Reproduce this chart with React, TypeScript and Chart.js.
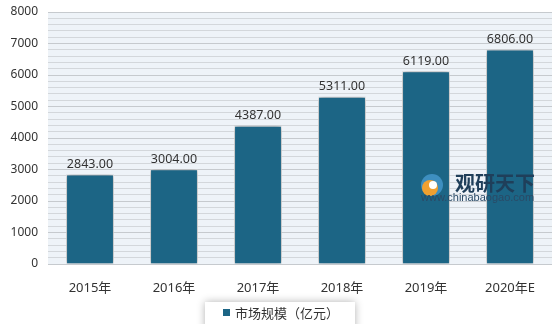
import React, { useEffect, useRef } from "react";
import { Chart, registerables } from "chart.js";

Chart.register(...registerables);

const categories = ["2015年", "2016年", "2017年", "2018年", "2019年", "2020年E"];
const marketSize = [2843, 3004, 4387, 5311, 6119, 6806];
const seriesName = "市场规模（亿元）";
const yMax = 8000;
const yStep = 200;

const FONT = "'Noto Sans', 'Noto Sans CJK SC', sans-serif";
const BAR = "#1C6585";

const bgPlugin = {
  id: "bgPlugin",
  beforeDraw(chart: any) {
    const { ctx, chartArea: a } = chart;
    ctx.save();
    ctx.fillStyle = "#EEF3F8";
    ctx.fillRect(a.left, a.top, a.right - a.left, a.bottom - a.top);
    ctx.restore();
  },
};

const shadowPlugin = {
  id: "shadowPlugin",
  beforeDatasetDraw(chart: any) {
    const ctx = chart.ctx;
    ctx.save();
    ctx.shadowColor = "rgba(0,0,0,0.45)";
    ctx.shadowBlur = 6;
    ctx.shadowOffsetX = 0;
    ctx.shadowOffsetY = 0;
  },
  afterDatasetDraw(chart: any) {
    chart.ctx.restore();
  },
};

const labelPlugin = {
  id: "labelPlugin",
  afterDatasetsDraw(chart: any) {
    const { ctx } = chart;
    const meta = chart.getDatasetMeta(0);
    ctx.save();
    ctx.font = `12.5px ${FONT}`;
    ctx.fillStyle = "#333333";
    ctx.textAlign = "center";
    ctx.textBaseline = "bottom";
    meta.data.forEach((bar: any, i: number) => {
      const v = chart.data.datasets[0].data[i] as number;
      ctx.fillText(v.toFixed(2), bar.x, bar.y - 4);
    });
    ctx.restore();
  },
};

const extrasPlugin = {
  id: "extrasPlugin",
  afterDraw(chart: any) {
    const { ctx } = chart;
    // watermark
    ctx.save();
    const cx = 432, cy = 185;
    ctx.beginPath();
    ctx.arc(cx, cy, 11, 0, Math.PI * 2);
    ctx.fillStyle = "#3E8FC0";
    ctx.fill();
    ctx.beginPath();
    ctx.arc(cx - 2, cy + 3, 8, 0, Math.PI * 2);
    ctx.fillStyle = "#F0A030";
    ctx.fill();
    ctx.beginPath();
    ctx.arc(cx + 1, cy, 4, 0, Math.PI * 2);
    ctx.fillStyle = "#FFFFFF";
    ctx.fill();
    ctx.font = `bold 20px 'Noto Sans CJK SC', sans-serif`;
    ctx.fillStyle = "#1F3F5A";
    ctx.textBaseline = "middle";
    ctx.textAlign = "left";
    ctx.fillText("观研天下", 455, 183);
    ctx.font = `11px 'Liberation Sans', sans-serif`;
    ctx.fillStyle = "#2A4A66";
    ctx.fillText("www.chinabaogao.com", 421, 198);
    ctx.restore();

    // legend box
    ctx.save();
    ctx.shadowColor = "rgba(0,0,0,0.3)";
    ctx.shadowBlur = 8;
    ctx.fillStyle = "#FFFFFF";
    ctx.fillRect(205, 302, 150, 30);
    ctx.restore();
    ctx.save();
    ctx.fillStyle = BAR;
    ctx.fillRect(223, 309, 7, 7);
    ctx.font = `13px 'Noto Sans CJK SC', sans-serif`;
    ctx.fillStyle = "#333333";
    ctx.textBaseline = "middle";
    ctx.textAlign = "left";
    ctx.fillText(seriesName, 235, 313);
    ctx.restore();
  },
};

export default function App() {
  const ref = useRef<HTMLCanvasElement | null>(null);
  useEffect(() => {
    if (!ref.current) return;
    const chart = new Chart(ref.current, {
      type: "bar",
      data: {
        labels: categories,
        datasets: [
          {
            label: seriesName,
            data: marketSize,
            backgroundColor: BAR,
            borderColor: "rgba(255,255,255,0.85)",
            borderWidth: 1,
            categoryPercentage: 1,
            barPercentage: 0.57,
          },
        ],
      },
      options: {
        responsive: false,
        animation: false,
        layout: { padding: { top: 12, right: 2, left: 0, bottom: 0 } },
        plugins: {
          legend: { display: false },
          tooltip: { enabled: false },
        },
        scales: {
          x: {
            grid: { display: false },
            border: { display: false },
            ticks: {
              color: "#333333",
              font: { size: 13, family: FONT },
              padding: 8,
            },
            afterFit: (s: any) => {
              s.height = 60;
              s.paddingLeft = 0;
              s.paddingRight = 0;
            },
          },
          y: {
            min: 0,
            max: yMax,
            border: { display: false },
            grid: {
              color: (c: any) =>
                c.tick && c.tick.value % 1000 === 0 ? "#C6CACE" : "#D3D7DB",
              lineWidth: 1,
              drawTicks: false,
            },
            ticks: {
              stepSize: yStep,
              autoSkip: false,
              color: "#333333",
              font: { size: 12, family: FONT },
              padding: 10,
              callback: (v: any) => (Number(v) % 1000 === 0 ? String(v) : ""),
            },
            afterFit: (s: any) => {
              s.width = 48;
              s.paddingTop = 0;
              s.paddingBottom = 0;
            },
          },
        },
      },
      plugins: [bgPlugin, shadowPlugin, labelPlugin, extrasPlugin],
    });
    return () => chart.destroy();
  }, []);
  return (
    <div style={{ position: "absolute", left: 0, top: 0, width: 554, height: 324, background: "#fff" }}>
      <canvas ref={ref} width={554} height={324} style={{ display: "block" }} />
    </div>
  );
}
